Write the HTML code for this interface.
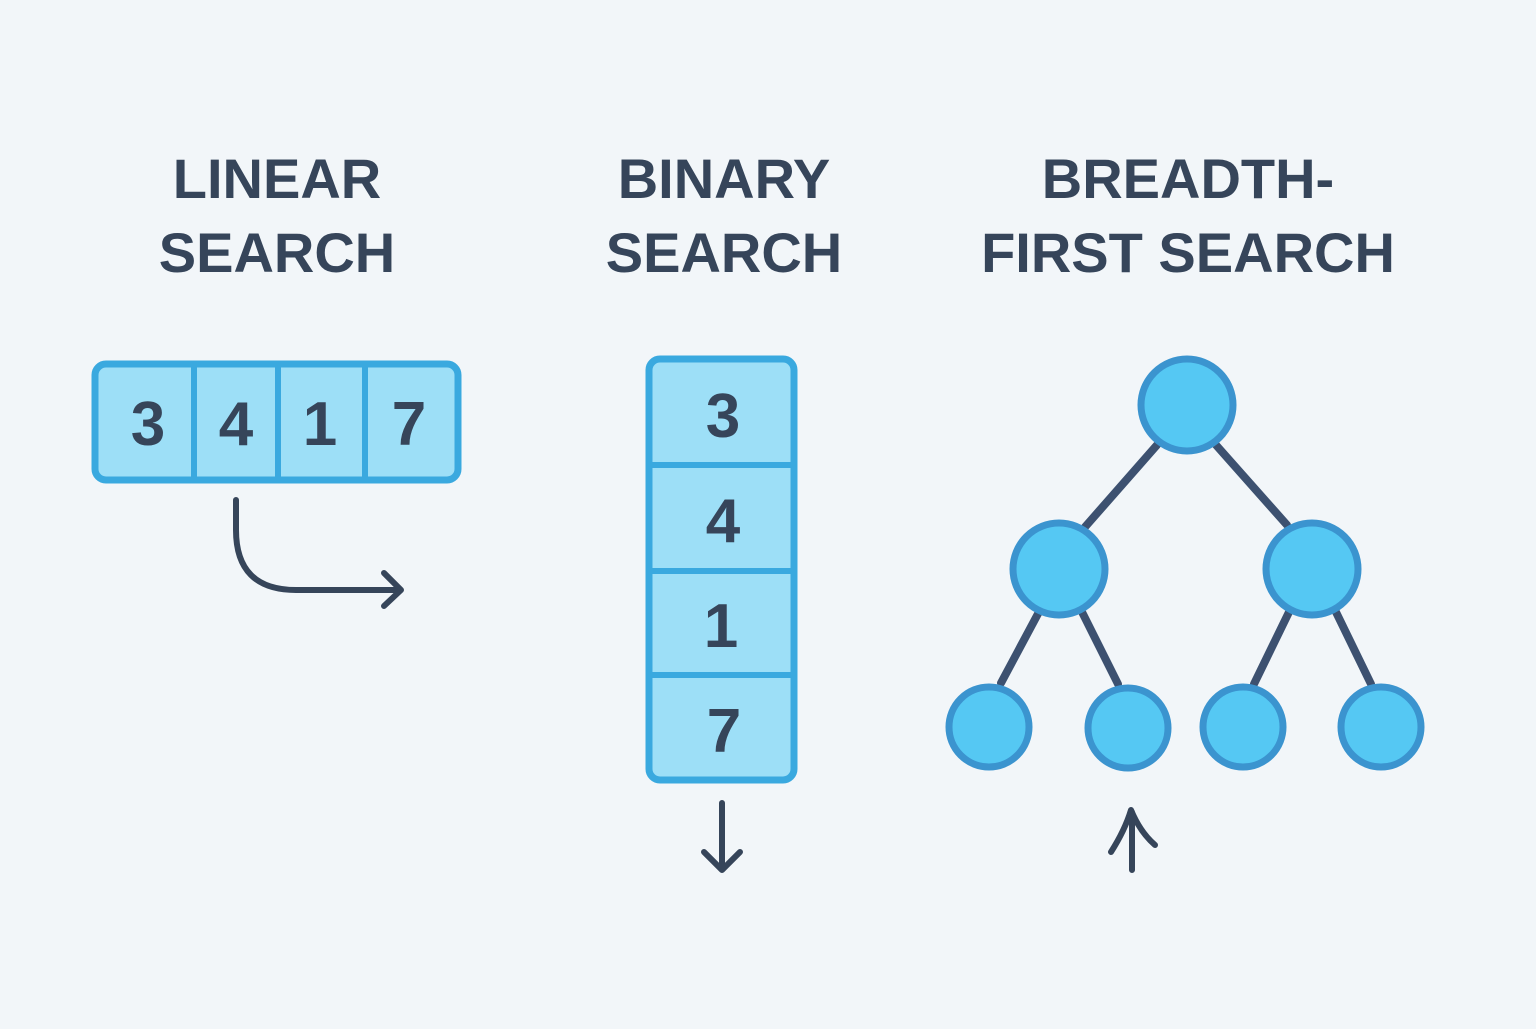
<!DOCTYPE html>
<html><head><style>html,body{margin:0;padding:0;background:#f2f6f9;}</style></head>
<body>
<svg width="1536" height="1024" viewBox="0 0 1536 1024" xmlns="http://www.w3.org/2000/svg">
<rect width="1536" height="1024" fill="#f2f6f9"/>
<g font-family="Liberation Sans, sans-serif" font-weight="bold" font-size="56" fill="#36455a" text-anchor="middle">
<text x="277" y="198">LINEAR</text>
<text x="277" y="272">SEARCH</text>
<text x="724" y="198">BINARY</text>
<text x="724" y="272">SEARCH</text>
<text x="1188" y="198">BREADTH-</text>
<text x="1188" y="272">FIRST SEARCH</text>
</g>
<rect x="95" y="364" width="363" height="116" rx="11" fill="#9ddff7" stroke="#3aa9df" stroke-width="7"/>
<g stroke="#3aa9df" stroke-width="6"><line x1="194" y1="364" x2="194" y2="480"/><line x1="278" y1="364" x2="278" y2="480"/><line x1="365" y1="364" x2="365" y2="480"/></g>
<g font-family="Liberation Sans, sans-serif" font-weight="bold" font-size="62" fill="#36455a" text-anchor="middle">
<text x="148" y="445">3</text><text x="236" y="445">4</text><text x="320" y="445">1</text><text x="409" y="445">7</text>
</g>
<path d="M236 500 L236 530 Q236 590 296 590 L400 590" fill="none" stroke="#36455a" stroke-width="6" stroke-linecap="round"/>
<path d="M384 573 L401 590 L384 606" fill="none" stroke="#36455a" stroke-width="6" stroke-linecap="round" stroke-linejoin="round"/>
<rect x="649" y="359" width="145" height="421" rx="11" fill="#9ddff7" stroke="#3aa9df" stroke-width="7"/>
<g stroke="#3aa9df" stroke-width="6"><line x1="649" y1="465" x2="794" y2="465"/><line x1="649" y1="571" x2="794" y2="571"/><line x1="649" y1="675" x2="794" y2="675"/></g>
<g font-family="Liberation Sans, sans-serif" font-weight="bold" font-size="62" fill="#36455a" text-anchor="middle">
<text x="723" y="437">3</text><text x="723" y="542">4</text><text x="721" y="647">1</text><text x="724" y="752">7</text>
</g>
<path d="M722 803 L722 870 M704 852 L722 870 L740 852" fill="none" stroke="#36455a" stroke-width="6" stroke-linecap="round" stroke-linejoin="round"/>
<g stroke="#3d5170" stroke-width="8" stroke-linecap="round">
<line x1="1157" y1="445" x2="1085" y2="527"/>
<line x1="1216" y1="445" x2="1287" y2="525"/>
<line x1="1040" y1="610" x2="1001" y2="683"/>
<line x1="1081" y1="610" x2="1118" y2="684"/>
<line x1="1290" y1="610" x2="1254" y2="684"/>
<line x1="1335" y1="610" x2="1371" y2="684"/>
</g>
<g fill="#55c8f3" stroke="#3b94cf" stroke-width="7">
<circle cx="1187" cy="405" r="46"/>
<circle cx="1059" cy="569" r="46"/>
<circle cx="1312" cy="569" r="46"/>
<circle cx="989" cy="727" r="40"/>
<circle cx="1128" cy="728" r="40"/>
<circle cx="1243" cy="727" r="40"/>
<circle cx="1381" cy="727" r="40"/>
</g>
<path d="M1132 870 L1132 812 M1111 852 Q1125 830 1131 810 Q1140 832 1155 845" fill="none" stroke="#36455a" stroke-width="6" stroke-linecap="round" stroke-linejoin="round"/>
</svg>
</body></html>
